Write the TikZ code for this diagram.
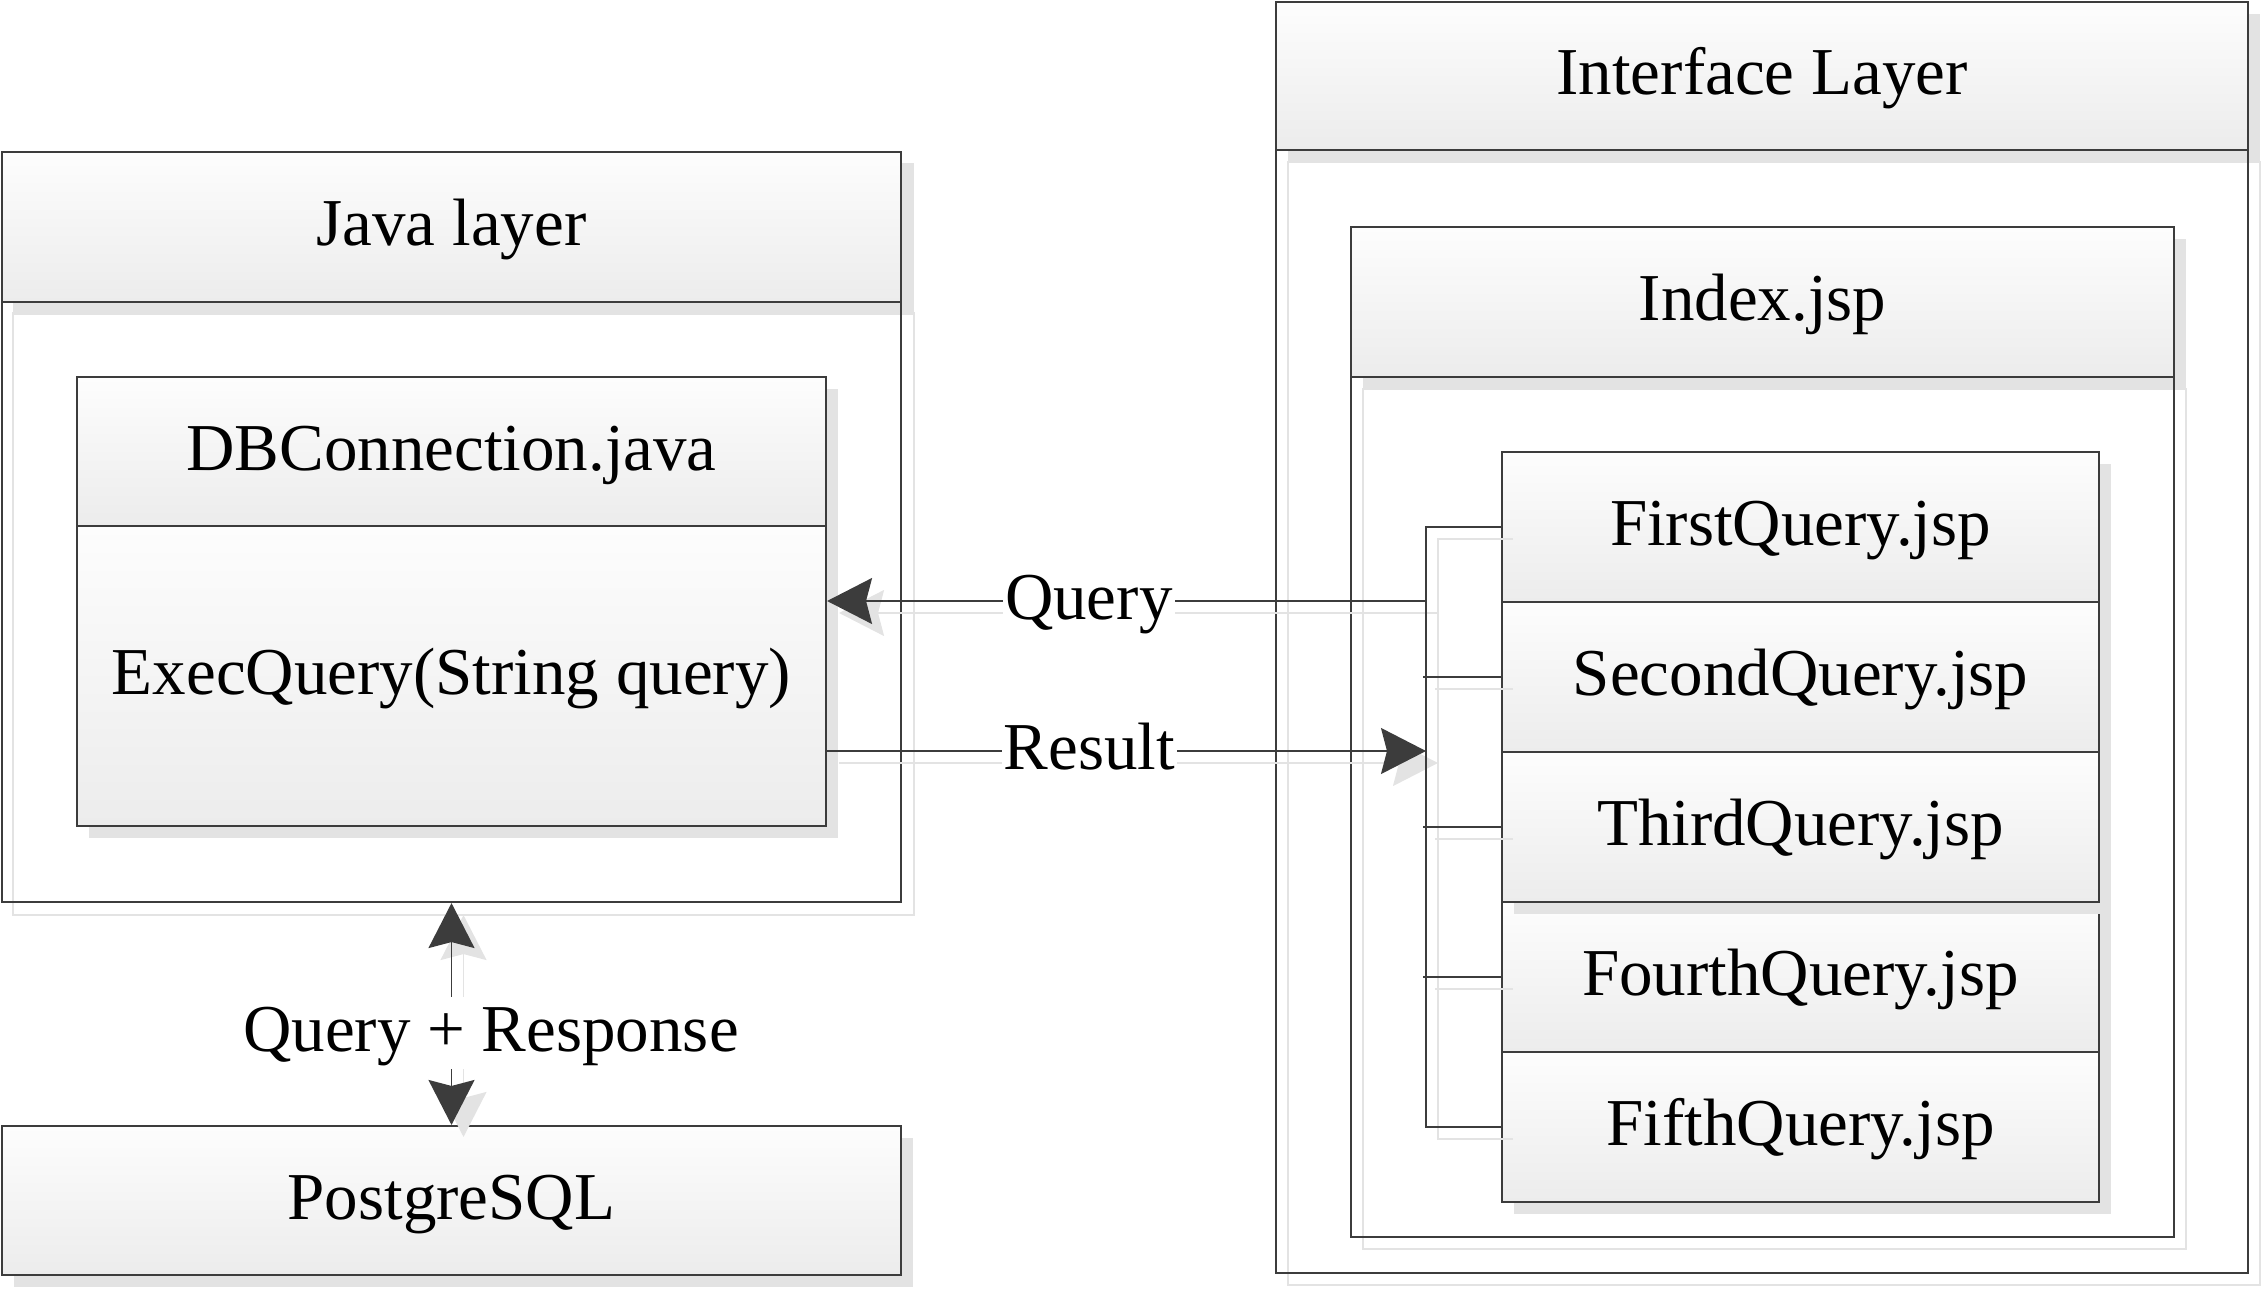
\documentclass[tikz,border=0pt]{standalone}
\usepackage{fontspec}
\setmainfont{Liberation Serif}
\usetikzlibrary{arrows.meta}
\definecolor{ln}{HTML}{3C3C3C}
\definecolor{sh}{HTML}{E3E3E3}
\definecolor{gtop}{HTML}{FDFDFD}
\definecolor{gbot}{HTML}{ECECEC}
\newcommand\shadowfill[1]{\fill[sh] ([shift={(12,12)}]#1.south west) rectangle ([shift={(12,12)}]#1.north east);}
\newcommand\shadowframe[1]{\draw[sh, line width=1pt] ([shift={(12,12)}]#1.south west) rectangle ([shift={(12,12)}]#1.north east);}
\begin{document}
\begin{tikzpicture}[x=0.5pt,y=-0.5pt,
  txt/.style={font=\fontsize{33.5}{40}\selectfont, text height=23.5pt, text depth=4.6pt},
  box/.style={txt, draw=ln, line width=1.05pt, top color=gtop, bottom color=gbot, inner sep=0pt},
  frame/.style={draw=ln, line width=1.05pt, inner sep=0pt},
  rowbox/.style={box, minimum width=298.5pt, minimum height=75pt},
  conn/.style={draw=ln, line width=0.85pt},
  shl/.style={draw=sh, line width=0.85pt},
  arr/.style={-{Stealth[length=22.5pt,width=23pt,inset=3pt]}},
  dblarr/.style={{Stealth[length=22.5pt,width=23pt,inset=3pt]}-{Stealth[length=22.5pt,width=23pt,inset=3pt]}},
  lbl/.style={txt, fill=white, inner xsep=1pt, inner ysep=4pt}
]
\useasboundingbox (0,0) rectangle (2264,1289);

% ---------- Java layer ----------
\path (451.5,227) node[box, minimum width=449.5pt, minimum height=75pt] (jh) {};
\path (451.5,602) node[frame, minimum width=449.5pt, minimum height=300pt] (jb) {};
\shadowfill{jh}
\shadowframe{jb}
\node[box, minimum width=449.5pt, minimum height=75pt] (jh) at (451.5,227) {Java layer};
\node[frame, minimum width=449.5pt, minimum height=300pt] (jb) at (451.5,602) {};

% DBConnection
\path (451.5,451.5) node[minimum width=374.5pt, minimum height=74.5pt, inner sep=0pt] (db1) {};
\path (451.5,676) node[minimum width=374.5pt, minimum height=150pt, inner sep=0pt] (db2) {};
\fill[sh] ([shift={(12,12)}]db2.south west) rectangle ([shift={(12,12)}]db1.north east);
\node[box, minimum width=374.5pt, minimum height=74.5pt] (db1) at (451.5,451.5) {DBConnection.java};
\node[box, minimum width=374.5pt, minimum height=150pt] (db2) at (451.5,676) {ExecQuery(String query)};

% PostgreSQL
\path (451.5,1200.5) node[minimum width=449.5pt, minimum height=74.5pt, inner sep=0pt] (pg) {};
\shadowfill{pg}
\node[box, minimum width=449.5pt, minimum height=74.5pt] (pg) at (451.5,1200.5) {PostgreSQL};

% ---------- Interface layer ----------
\path (1762,76) node[minimum width=486pt, minimum height=74pt, inner sep=0pt] (ih) {};
\path (1762,711.5) node[minimum width=486pt, minimum height=561.5pt, inner sep=0pt] (ib) {};
\shadowfill{ih}
\shadowframe{ib}
\node[box, minimum width=486pt, minimum height=74pt] (ih) at (1762,76) {Interface Layer};
\node[frame, minimum width=486pt, minimum height=561.5pt] (ib) at (1762,711.5) {};

% Index.jsp
\path (1762.5,302) node[minimum width=411.5pt, minimum height=75pt, inner sep=0pt] (xh) {};
\path (1762.5,807) node[minimum width=411.5pt, minimum height=430pt, inner sep=0pt] (xb) {};
\shadowfill{xh}
\shadowframe{xb}
\node[box, minimum width=411.5pt, minimum height=75pt] (xh) at (1762.5,302) {Index.jsp};
\node[frame, minimum width=411.5pt, minimum height=430pt] (xb) at (1762.5,807) {};

% Query pages
\path (1800.5,977) node[minimum width=298.5pt, minimum height=75pt, inner sep=0pt] (r4) {};
\shadowfill{r4}
\node[rowbox] (r4) at (1800.5,977) {FourthQuery.jsp};
\path (1800.5,1127) node[minimum width=298.5pt, minimum height=75pt, inner sep=0pt] (r5) {};
\shadowfill{r5}
\node[rowbox] (r5) at (1800.5,1127) {FifthQuery.jsp};
\path (1800.5,527) node[minimum width=298.5pt, minimum height=75pt, inner sep=0pt] (r1) {};
\shadowfill{r1}
\node[rowbox] (r1) at (1800.5,527) {FirstQuery.jsp};
\path (1800.5,677) node[minimum width=298.5pt, minimum height=75pt, inner sep=0pt] (r2) {};
\shadowfill{r2}
\node[rowbox] (r2) at (1800.5,677) {SecondQuery.jsp};
\path (1800.5,827) node[minimum width=298.5pt, minimum height=75pt, inner sep=0pt] (r3) {};
\shadowfill{r3}
\node[rowbox] (r3) at (1800.5,827) {ThirdQuery.jsp};

% ---------- connector coordinates ----------
\coordinate (bq) at (1426,601);
\coordinate (br) at (1426,751);
\coordinate (qe) at (bq -| db2.east);
\coordinate (re) at (br -| db2.east);
\coordinate (c1) at (r1.west -| bq);
\coordinate (c5) at (r5.west -| bq);
\coordinate (t2) at ([xshift=-1.5pt]r2.west -| bq);
\coordinate (t3) at ([xshift=-1.5pt]r3.west -| bq);
\coordinate (t4) at ([xshift=-1.5pt]r4.west -| bq);

% connector shadows
\draw[shl] ([shift={(12,12)}]r1.west) -- ([shift={(12,12)}]c1) -- ([shift={(12,12)}]c5) -- ([shift={(12,12)}]r5.west);
\draw[shl] ([shift={(12,12)}]t2) -- ([shift={(12,12)}]r2.west);
\draw[shl] ([shift={(12,12)}]t3) -- ([shift={(12,12)}]r3.west);
\draw[shl] ([shift={(12,12)}]t4) -- ([shift={(12,12)}]r4.west);
\draw[shl, arr] ([shift={(12,12)}]bq) -- ([shift={(12,12)}]qe);
\draw[shl, arr] ([shift={(12,12)}]re) -- ([shift={(12,12)}]br);
\draw[shl, dblarr] ([shift={(12,12)}]jb.south) -- ([shift={(12,12)}]pg.north);

% connectors
\draw[conn] (r1.west) -- (c1) -- (c5) -- (r5.west);
\draw[conn] (t2) -- (r2.west);
\draw[conn] (t3) -- (r3.west);
\draw[conn] (t4) -- (r4.west);
\draw[conn, arr] (bq) -- (qe) node[lbl, pos=0.563] (ql) {Query};
\draw[conn, arr] (re) -- (br) node[lbl, pos=0.438] (rl) {Result};
\draw[conn, dblarr] (jb.south) -- (pg.north);
\node[lbl] (qr) at (491,1033) {Query + Response};
\end{tikzpicture}
\end{document}
